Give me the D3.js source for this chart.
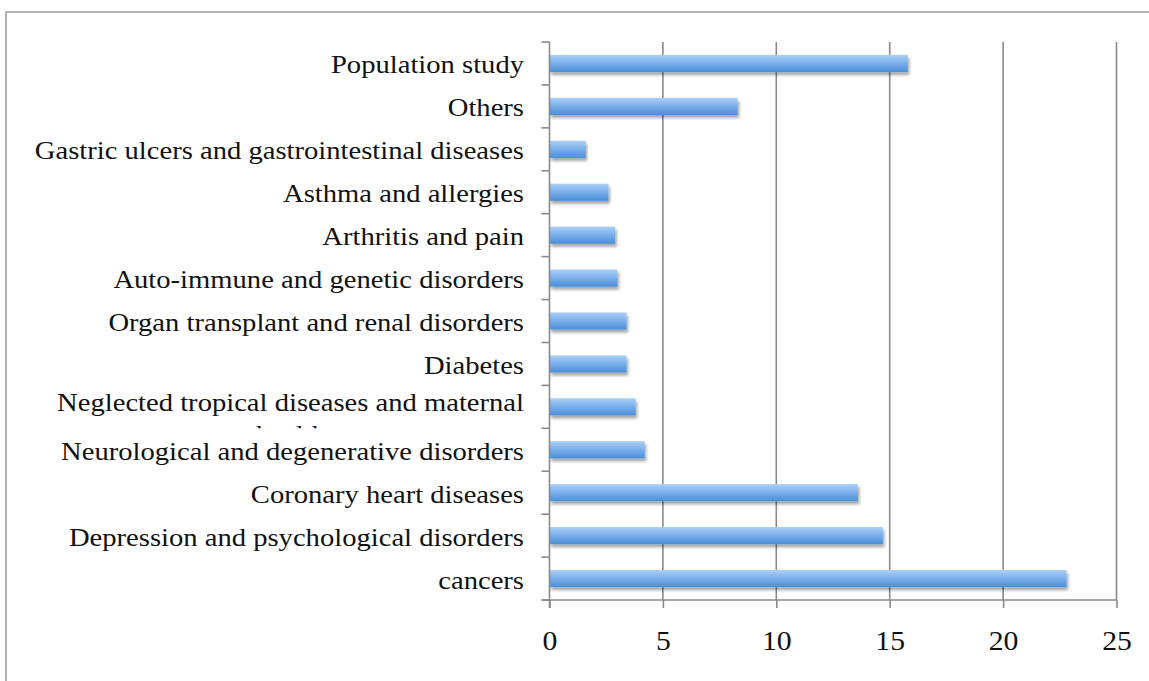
<!DOCTYPE html>
<html>
<head>
<meta charset="utf-8">
<script src="https://cdn.jsdelivr.net/npm/d3@7"></script>
<style>
  html, body { margin: 0; padding: 0; background: #fff; }
  svg { display: block; }
  .lbl { font-family: "Liberation Serif", "Times New Roman", serif; fill: #111; }
</style>
</head>
<body>
<svg id="chart" width="1149" height="681"></svg>
<script>
// Categories listed bottom to top, as they sit on the axis
const categories = [
  "cancers",
  "Depression and psychological disorders",
  "Coronary heart diseases",
  "Neurological and degenerative disorders",
  "Neglected tropical diseases and maternal health",
  "Diabetes",
  "Organ transplant and renal disorders",
  "Auto-immune and genetic disorders",
  "Arthritis and pain ",
  "Asthma and allergies",
  "Gastric ulcers and gastrointestinal diseases",
  "Others",
  "Population study"
];
const values = [22.8, 14.7, 13.6, 4.2, 3.8, 3.4, 3.4, 3.0, 2.9, 2.6, 1.6, 8.3, 15.8];
const xTicks = [0, 5, 10, 15, 20, 25];

const svg = d3.select("#chart");
const W = 1149, H = 681;
const plot = { left: 549.5, right: 1116.5, top: 42, bottom: 600 };
const widen = 1.1;       // horizontal stretch giving the serif a wider set
const fontSize = 26;

const defs = svg.append("defs");
const grad = defs.append("linearGradient")
  .attr("id", "barFill").attr("x1", 0).attr("y1", 0).attr("x2", 0).attr("y2", 1);
grad.append("stop").attr("offset", "0%").attr("stop-color", "#acd0f7");
grad.append("stop").attr("offset", "45%").attr("stop-color", "#7fb1ec");
grad.append("stop").attr("offset", "100%").attr("stop-color", "#4a8ed7");

const shadow = defs.append("filter").attr("id", "barShadow")
  .attr("x", "-5%").attr("y", "-50%").attr("width", "110%").attr("height", "220%");
shadow.append("feDropShadow")
  .attr("dx", 1.5).attr("dy", 3).attr("stdDeviation", 1.8)
  .attr("flood-color", "#000").attr("flood-opacity", 0.35);

// outer frame (left and top edges)
svg.append("path")
  .attr("d", `M6,${H} L6,12 L${W},12`)
  .attr("fill", "none").attr("stroke", "#b3b3b3").attr("stroke-width", 2);

const x = d3.scaleLinear().domain([0, 25]).range([plot.left, plot.right]);
const y = d3.scaleBand()
  .domain(categories.slice().reverse())
  .range([plot.top, plot.bottom])
  .paddingInner(0.6).paddingOuter(0.3);
const step = y.step();

// vertical gridlines
svg.append("g").selectAll("line")
  .data(xTicks.filter(t => t > 0))
  .join("line")
  .attr("x1", d => x(d)).attr("x2", d => x(d))
  .attr("y1", plot.top).attr("y2", plot.bottom)
  .attr("stroke", "#8a8a8a").attr("stroke-width", 1.6);

// bars
svg.append("g").selectAll("rect")
  .data(categories.map((c, i) => ({ c, v: values[i] })))
  .join("rect")
  .attr("x", x(0))
  .attr("y", d => y(d.c))
  .attr("width", d => x(d.v) - x(0))
  .attr("height", y.bandwidth())
  .attr("fill", "url(#barFill)")
  .attr("filter", "url(#barShadow)");

// x axis
const xAxis = svg.append("g")
  .attr("transform", `translate(0,${plot.bottom})`)
  .call(d3.axisBottom(x).tickValues(xTicks).tickSize(8).tickPadding(20).tickSizeOuter(0));
xAxis.select(".domain").attr("stroke", "#8a8a8a").attr("stroke-width", 1.6)
  .attr("d", `M${plot.left - 8},0H${plot.right}`);
xAxis.selectAll(".tick line").attr("stroke", "#8a8a8a").attr("stroke-width", 1.6);
xAxis.selectAll(".tick text")
  .attr("class", "lbl")
  .attr("y", 0).attr("dy", null)
  .attr("transform", `translate(0,50) scale(${widen},1)`)
  .style("font-size", "27px")
  .attr("fill", "#111");

// y axis line with category separators
const yAxis = svg.append("g");
yAxis.append("line")
  .attr("x1", plot.left).attr("x2", plot.left)
  .attr("y1", plot.top).attr("y2", plot.bottom + 8)
  .attr("stroke", "#8a8a8a").attr("stroke-width", 1.6);
yAxis.selectAll("line.sep")
  .data(d3.range(categories.length + 1))
  .join("line").attr("class", "sep")
  .attr("x1", plot.left - 8).attr("x2", plot.left)
  .attr("y1", i => plot.top + i * step).attr("y2", i => plot.top + i * step)
  .attr("stroke", "#8a8a8a").attr("stroke-width", 1.6);

// category labels; each is clipped to its own band
const labelX = 524;
const labels = svg.append("g");
y.domain().forEach((c, i) => {
  const bandTop = plot.top + i * step;
  const cy = bandTop + step / 2;
  const clipId = "clip" + i;
  defs.append("clipPath").attr("id", clipId)
    .append("rect").attr("x", 0).attr("y", bandTop).attr("width", plot.left).attr("height", step);
  const clipG = labels.append("g").attr("clip-path", `url(#${clipId})`);
  if (c.startsWith("Neglected")) {
    clipG.append("text").attr("class", "lbl")
      .style("font-size", fontSize + "px")
      .attr("text-anchor", "end")
      .attr("transform", `translate(${labelX},${cy + 4.5}) scale(${widen},1)`)
      .text("Neglected tropical diseases and maternal");
    clipG.append("text").attr("class", "lbl")
      .style("font-size", fontSize + "px")
      .attr("text-anchor", "middle")
      .attr("transform", `translate(291,${cy + 36.5}) scale(${widen},1)`)
      .text("health");
  } else {
    clipG.append("text").attr("class", "lbl")
      .style("font-size", fontSize + "px")
      .attr("text-anchor", "end")
      .attr("transform", `translate(${labelX},${cy + 10}) scale(${widen},1)`)
      .text(c);
  }
});
</script>
</body>
</html>
